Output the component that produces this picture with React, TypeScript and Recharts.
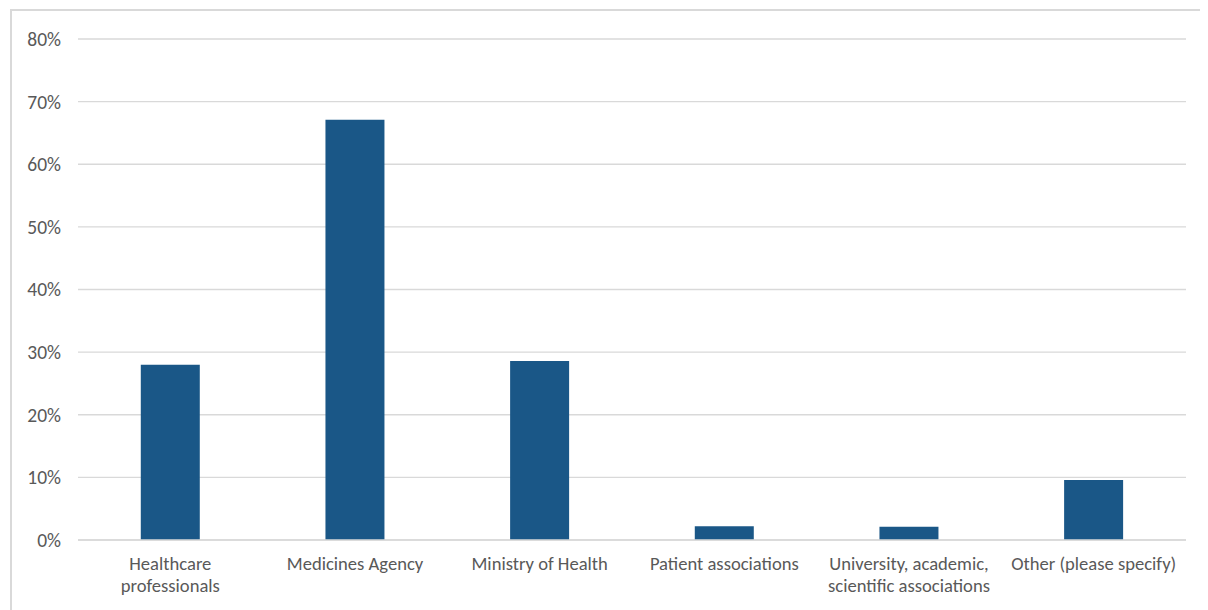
import { Bar, BarChart, CartesianGrid, XAxis, YAxis } from "recharts";

const categories = [
  "Healthcare\nprofessionals",
  "Medicines Agency",
  "Ministry of Health",
  "Patient associations",
  "University, academic,\nscientific associations",
  "Other (please specify)",
];
const shares = [28.0, 67.1, 28.6, 2.2, 2.1, 9.6];
const yTicks = [0, 10, 20, 30, 40, 50, 60, 70, 80];

const data = categories.map((name, i) => ({ name, value: shares[i] }));

const font = "Carlito, Calibri, 'Open Sans', sans-serif";

function CategoryTick(props: any) {
  const { x, y, payload } = props;
  const lines = String(payload.value).split("\n");
  return (
    <text x={x} y={y} textAnchor="middle" fill="#595959" fontSize={18.6} fontFamily={font}>
      {lines.map((line, i) => (
        <tspan key={i} x={x} dy={i === 0 ? "0.68em" : 22}>
          {line}
        </tspan>
      ))}
    </text>
  );
}

export default function App() {
  return (
    <div
      style={{
        marginLeft: 2,
        marginTop: 1,
        width: 1196,
        height: 600,
        borderTop: "2px solid #d9d9d9",
        borderLeft: "2px solid #d9d9d9",
      }}
    >
      <style>{"html, body { overflow: hidden; }"}</style>
      <BarChart
        width={1190}
        height={597}
        data={data}
        barCategoryGap="34%"
        margin={{ top: 28, right: 16, left: 0, bottom: 18 }}
      >
        <CartesianGrid vertical={false} stroke="#d9d9d9" strokeWidth={1.3} />
        <XAxis
          dataKey="name"
          axisLine={{ stroke: "#d9d9d9", strokeWidth: 1.3 }}
          tickLine={false}
          interval={0}
          height={50}
          tickSize={0}
          tickMargin={17}
          tick={<CategoryTick />}
        />
        <YAxis
          width={66}
          domain={[0, 80]}
          ticks={yTicks}
          interval={0}
          axisLine={false}
          tickLine={false}
          tickSize={0}
          tickMargin={17}
          tickFormatter={(v: number) => `${v}%`}
          tick={{ fill: "#595959", fontSize: 19.5, fontFamily: font }}
        />
        <Bar dataKey="value" fill="#1a5787" isAnimationActive={false} />
      </BarChart>
    </div>
  );
}
